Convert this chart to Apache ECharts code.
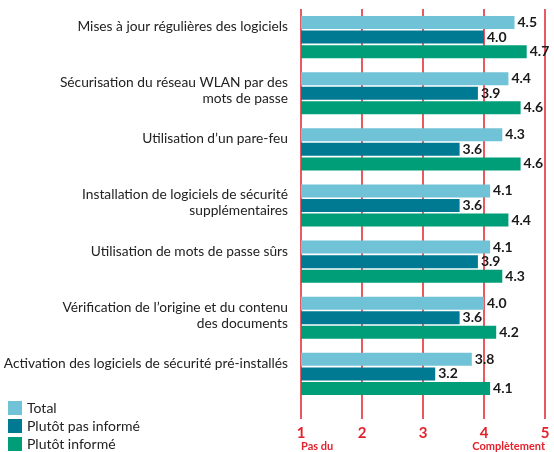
<!DOCTYPE html>
<html>
<head>
<meta charset="utf-8">
<script src="https://cdn.jsdelivr.net/npm/echarts@6/dist/echarts.min.js"></script>
<style>
  html, body { margin: 0; padding: 0; background: #fff; }
  #chart { width: 554px; height: 452px; }
</style>
</head>
<body>
<div id="chart"></div>
<script>
const categories = [
    'Mises à jour régulières des logiciels',
    'Sécurisation du réseau WLAN par des\nmots de passe',
    'Utilisation d’un pare-feu',
    'Installation de logiciels de sécurité\nsupplémentaires',
    'Utilisation de mots de passe sûrs',
    'Vérification de l’origine et du contenu\ndes documents',
    'Activation des logiciels de sécurité pré-installés'
];
const seriesNames = ['Total', 'Plutôt pas informé', 'Plutôt informé'];
const totalValues = [4.5, 4.4, 4.3, 4.1, 4.1, 4.0, 3.8];
const notInformedValues = [4.0, 3.9, 3.6, 3.6, 3.9, 3.6, 3.2];
const informedValues = [4.7, 4.6, 4.6, 4.4, 4.3, 4.2, 4.1];
const scaleEnds = { 1: 'Pas du', 5: 'Complètement' };

const red = '#e2222c';
const colors = ['#70c3d6', '#007a92', '#009e78'];
const font = 'Lato';

window.onload = function () {
    const chart = echarts.init(document.getElementById('chart'));

    function makeSeries(name, values, color) {
        return {
            name: name,
            type: 'bar',
            data: values,
            barWidth: 13,
            barGap: '12%',
            itemStyle: { color: color },
            label: {
                show: true,
                position: 'right',
                distance: 3,
                fontFamily: font,
                fontWeight: 'bold',
                fontSize: 14,
                color: '#1a1a1a',
                formatter: function (p) {
                    return p.value.toFixed(1);
                }
            }
        };
    }

    const option = {
        animation: false,
        textStyle: { fontFamily: font },
        grid: { left: 301, right: 9, top: 9, bottom: 50, outerBoundsMode: 'none' },
        legend: {
            orient: 'vertical',
            left: 8,
            top: 401,
            height: 60,
            padding: 0,
            icon: 'rect',
            itemWidth: 14,
            itemHeight: 14,
            itemGap: 4,
            textStyle: { fontFamily: font, fontSize: 14, color: '#222' },
            data: seriesNames
        },
        xAxis: [{
            type: 'value',
            min: 1,
            max: 5,
            interval: 1,
            axisLine: { show: false },
            axisTick: { show: true, length: 17, lineStyle: { color: red, width: 1.5 } },
            splitLine: { show: true, lineStyle: { color: red, width: 1.5 } },
            axisLabel: {
                margin: 24,
                color: red,
                fontFamily: font,
                fontWeight: 'bold',
                fontSize: 15,
                showMinLabel: true,
                showMaxLabel: true
            }
        }, {
            // second axis only carries the scale end captions
            type: 'value',
            position: 'bottom',
            min: 1,
            max: 5,
            interval: 1,
            axisLine: { show: false },
            axisTick: { show: false },
            splitLine: { show: false },
            axisLabel: {
                margin: 39,
                color: red,
                fontFamily: font,
                fontWeight: 'bold',
                fontSize: 11,
                showMinLabel: true,
                showMaxLabel: true,
                alignMinLabel: 'left',
                alignMaxLabel: 'right',
                formatter: function (v) {
                    return scaleEnds[v] || '';
                }
            }
        }],
        yAxis: {
            type: 'category',
            inverse: true,
            data: categories,
            axisLine: { show: false },
            axisTick: { show: false },
            axisLabel: {
                margin: 13,
                fontFamily: font,
                fontSize: 13.75,
                color: '#222',
                lineHeight: 16,
                formatter: function (v) {
                    return (v.indexOf('\n') < 0 ? v + '\n ' : v) + '\n{g| }';
                },
                rich: {
                    g: { fontSize: 1, lineHeight: 5 }
                }
            }
        },
        series: [
            makeSeries(seriesNames[0], totalValues, colors[0]),
            makeSeries(seriesNames[1], notInformedValues, colors[1]),
            makeSeries(seriesNames[2], informedValues, colors[2])
        ]
    };

    chart.setOption(option);
};
</script>
</body>
</html>
